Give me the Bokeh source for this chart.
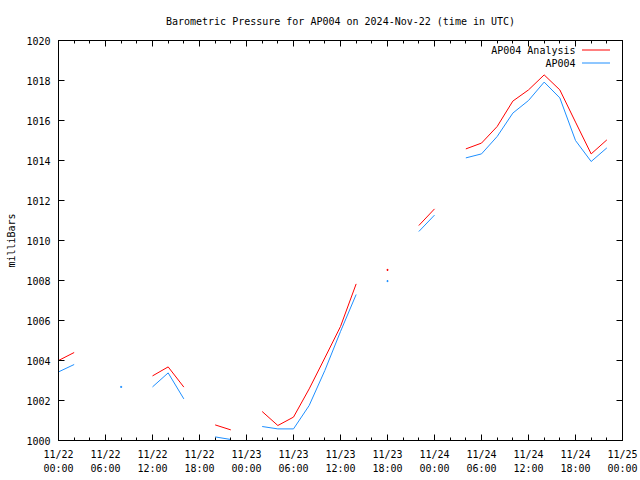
import numpy as np
import pandas as pd
from bokeh.plotting import figure
from bokeh.models import (Range1d, FixedTicker, LinearAxis, DatetimeAxis,
                          DatetimeTickFormatter, Label, Arrow, ColumnDataSource,
                          CustomLabelingPolicy)
from bokeh.embed import file_html
from bokeh.resources import INLINE

nan = float("nan")

# ---- data ----
times = ["2024-11-22 00:00", "2024-11-22 02:00", "2024-11-22 04:00", "2024-11-22 06:00",
         "2024-11-22 08:00", "2024-11-22 10:00", "2024-11-22 12:00", "2024-11-22 14:00",
         "2024-11-22 16:00", "2024-11-22 18:00", "2024-11-22 20:00", "2024-11-22 22:00",
         "2024-11-23 00:00", "2024-11-23 02:00", "2024-11-23 04:00", "2024-11-23 06:00",
         "2024-11-23 08:00", "2024-11-23 10:00", "2024-11-23 12:00", "2024-11-23 14:00",
         "2024-11-23 16:00", "2024-11-23 18:00", "2024-11-23 20:00", "2024-11-23 22:00",
         "2024-11-24 00:00", "2024-11-24 02:00", "2024-11-24 04:00", "2024-11-24 06:00",
         "2024-11-24 08:00", "2024-11-24 10:00", "2024-11-24 12:00", "2024-11-24 14:00",
         "2024-11-24 16:00", "2024-11-24 18:00", "2024-11-24 20:00", "2024-11-24 22:00"]

analysis = [1004.00, 1004.40, nan, nan,
            nan, nan, 1003.23, 1003.68,
            1002.67, nan, 1000.78, 1000.53,
            nan, 1001.45, 1000.75, 1001.17,
            1002.58, 1004.13, 1005.70, 1007.83,
            nan, 1008.53, nan, 1010.75,
            1011.58, nan, 1014.58, 1014.87,
            1015.70, 1016.97, 1017.53, 1018.28,
            1017.53, 1015.92, 1014.33, 1015.03]

station = [1003.43, 1003.80, nan, nan,
           1002.68, nan, 1002.68, 1003.38,
           1002.08, nan, 1000.18, 1000.05,
           nan, 1000.70, 1000.58, 1000.58,
           1001.75, 1003.50, 1005.45, 1007.30,
           nan, 1007.97, nan, 1010.45,
           1011.27, nan, 1014.13, 1014.33,
           1015.20, 1016.37, 1017.00, 1017.92,
           1017.13, 1015.00, 1013.95, 1014.63]

series_names = ["AP004 Analysis", "AP004"]
title_text = "Barometric Pressure for AP004 on 2024-Nov-22 (time in UTC)"
y_label = "milliBars"
x_start, x_end = "2024-11-22 00:00", "2024-11-25 00:00"
y_ticks = list(range(1000, 1021, 2))

RED = "#ff0000"
BLUE = "#1e8fff"
FONT = "DejaVu Sans Mono"
FS = "10px"

t = pd.to_datetime(times)
t0 = pd.Timestamp(x_start)
t1 = pd.Timestamp(x_end)

W, H = 640, 480
p = figure(width=W, height=H, output_backend="svg", toolbar_location=None,
           x_axis_type="datetime",
           x_range=Range1d(t0, t1), y_range=Range1d(1000, 1020),
           min_border_left=58, min_border_right=18,
           min_border_top=40, min_border_bottom=40)
p.xgrid.visible = False
p.ygrid.visible = False
p.outline_line_color = "black"
p.outline_line_width = 1
p.background_fill_color = "white"
p.border_fill_color = "white"

p.title.text = title_text
p.title.align = "center"
p.title.text_font = FONT
p.title.text_font_size = FS
p.title.text_font_style = "normal"
p.title.text_color = "black"
p.title.standoff = 15


def ms(ts):
    return ts.value / 1e6


major = [ms(x) for x in pd.date_range(t0, t1, freq="6h")]
minor = [ms(x) for x in pd.date_range(t0, t1, freq="2h")]
xticker = FixedTicker(ticks=major, minor_ticks=minor)
fmt = "%m/%d\n%H:%M"
xfmt = DatetimeTickFormatter(microseconds=fmt, milliseconds=fmt, seconds=fmt,
                             minsec=fmt, minutes=fmt, hourmin=fmt, hours=fmt,
                             days=fmt, months=fmt, years=fmt)
yticker = FixedTicker(ticks=y_ticks, minor_ticks=[])
hide_all = CustomLabelingPolicy(code="for (const i of indices) { indices.unset(i) }; return indices")


def style(ax, labels=True):
    ax.axis_line_color = "black"
    ax.major_tick_line_color = "black"
    ax.minor_tick_line_color = "black"
    ax.major_tick_in = 6
    ax.major_tick_out = 0
    ax.minor_tick_in = 3
    ax.minor_tick_out = 0
    ax.major_label_text_font = FONT
    ax.major_label_text_font_size = FS if labels else "1px"
    ax.major_label_text_color = "black"
    ax.axis_label_text_font = FONT
    ax.axis_label_text_font_size = FS
    ax.axis_label_text_font_style = "normal"
    ax.axis_label_text_color = "black"
    if not labels:
        ax.major_label_policy = hide_all
        ax.major_label_standoff = 0


xa = p.xaxis[0]
xa.ticker = xticker
xa.formatter = xfmt
style(xa)
xa.major_label_standoff = 8
xa.major_label_text_line_height = 1.3

ya = p.yaxis[0]
ya.ticker = yticker
style(ya)
ya.major_label_standoff = 8
ya.axis_label = y_label
ya.axis_label_standoff = 6

top = DatetimeAxis(ticker=xticker, formatter=xfmt)
style(top, labels=False)
p.add_layout(top, "above")
right = LinearAxis(ticker=yticker)
style(right, labels=False)
p.add_layout(right, "right")

for vals, color in [(analysis, RED), (station, BLUE)]:
    v = np.array(vals, dtype=float)
    src = ColumnDataSource(dict(t=t, v=v))
    p.line("t", "v", source=src, line_color=color, line_width=1)
    prev = np.concatenate([[nan], v[:-1]])
    nxt = np.concatenate([v[1:], [nan]])
    iso = np.isfinite(v) & ~np.isfinite(prev) & ~np.isfinite(nxt)
    if iso.any():
        p.scatter(t[iso], v[iso], marker="square", size=1,
                  line_color=color, fill_color=color)

# legend (label left of sample, like gnuplot); screen units relative to the frame
rows = [(series_names[0], RED, 390.5), (series_names[1], BLUE, 377.5)]
for name, color, yy in rows:
    p.add_layout(Label(x=517, y=yy, x_units="screen", y_units="screen",
                       text=name, text_font=FONT, text_font_size=FS,
                       text_align="right", text_baseline="middle", text_color="black"))
    p.add_layout(Arrow(end=None, x_start=523.5, y_start=yy, x_end=551.5, y_end=yy,
                       start_units="screen", end_units="screen",
                       line_color=color, line_width=1))

open("out.html", "w").write(file_html(p, INLINE))
